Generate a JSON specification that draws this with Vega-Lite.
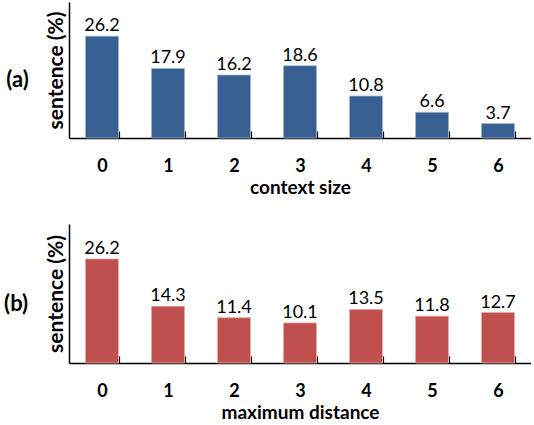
{
  "$schema": "https://vega.github.io/schema/vega-lite/v6.json",
  "padding": {"left": 4, "top": 2, "right": 0, "bottom": 0},
  "spacing": 27,
  "config": {
    "view": {"stroke": null},
    "font": "Lato",
    "axis": {"domainColor": "#000", "domainWidth": 1.5, "labelFont": "Lato", "titleFont": "Lato", "labelFontSize": 18, "labelFontWeight": "bold", "labelColor": "#000", "titleFontSize": 19, "titleFontWeight": "bold", "titleColor": "#000", "grid": false},
    "title": {"font": "Lato", "fontSize": 22, "fontWeight": "bold", "color": "#000"}
  },
  "vconcat": [
    {
      "title": {"text": "(a)", "orient": "left", "angle": 0, "anchor": "middle", "offset": 5},
      "width": 462,
      "height": 136,
      "data": {"values": [
        {"k": "0", "v": 26.2}, {"k": "1", "v": 17.9}, {"k": "2", "v": 16.2}, {"k": "3", "v": 18.6},
        {"k": "4", "v": 10.8}, {"k": "5", "v": 6.6}, {"k": "6", "v": 3.7}
      ]},
      "encoding": {
        "x": {"field": "k", "type": "nominal", "scale": {"paddingInner": 0.5, "paddingOuter": 0.25},
              "axis": {"title": "context size", "labelAngle": 0, "tickBand": "extent", "tickSize": -7, "tickColor": "#000", "tickWidth": 1.2, "labelPadding": 26, "titlePadding": 3}},
        "y": {"field": "v", "type": "quantitative", "scale": {"domain": [0, 35]},
              "axis": {"title": "sentence (%)", "titleFontSize": 21, "ticks": false, "labels": false, "titlePadding": 3}}
      },
      "layer": [
        {"mark": {"type": "bar", "color": "#375F92", "stroke": "#9fb3cf", "strokeWidth": 0.8}},
        {"mark": {"type": "text", "baseline": "bottom", "dy": -1, "fontSize": 18, "color": "#000"},
         "encoding": {"text": {"field": "v", "type": "quantitative", "format": ".1f"}}}
      ]
    },
    {
      "title": {"text": "(b)", "orient": "left", "angle": 0, "anchor": "middle", "offset": 5},
      "width": 462,
      "height": 139,
      "data": {"values": [
        {"k": "0", "v": 26.2}, {"k": "1", "v": 14.3}, {"k": "2", "v": 11.4}, {"k": "3", "v": 10.1},
        {"k": "4", "v": 13.5}, {"k": "5", "v": 11.8}, {"k": "6", "v": 12.7}
      ]},
      "encoding": {
        "x": {"field": "k", "type": "nominal", "scale": {"paddingInner": 0.5, "paddingOuter": 0.25},
              "axis": {"title": "maximum distance", "labelAngle": 0, "tickBand": "extent", "tickSize": -7, "tickColor": "#000", "tickWidth": 1.2, "labelPadding": 26, "titlePadding": 3}},
        "y": {"field": "v", "type": "quantitative", "scale": {"domain": [0, 35]},
              "axis": {"title": "sentence (%)", "titleFontSize": 21, "ticks": false, "labels": false, "titlePadding": 3}}
      },
      "layer": [
        {"mark": {"type": "bar", "color": "#C0504D", "stroke": "#e6a9a7", "strokeWidth": 0.8}},
        {"mark": {"type": "text", "baseline": "bottom", "dy": -1, "fontSize": 18, "color": "#000"},
         "encoding": {"text": {"field": "v", "type": "quantitative", "format": ".1f"}}}
      ]
    }
  ]
}
